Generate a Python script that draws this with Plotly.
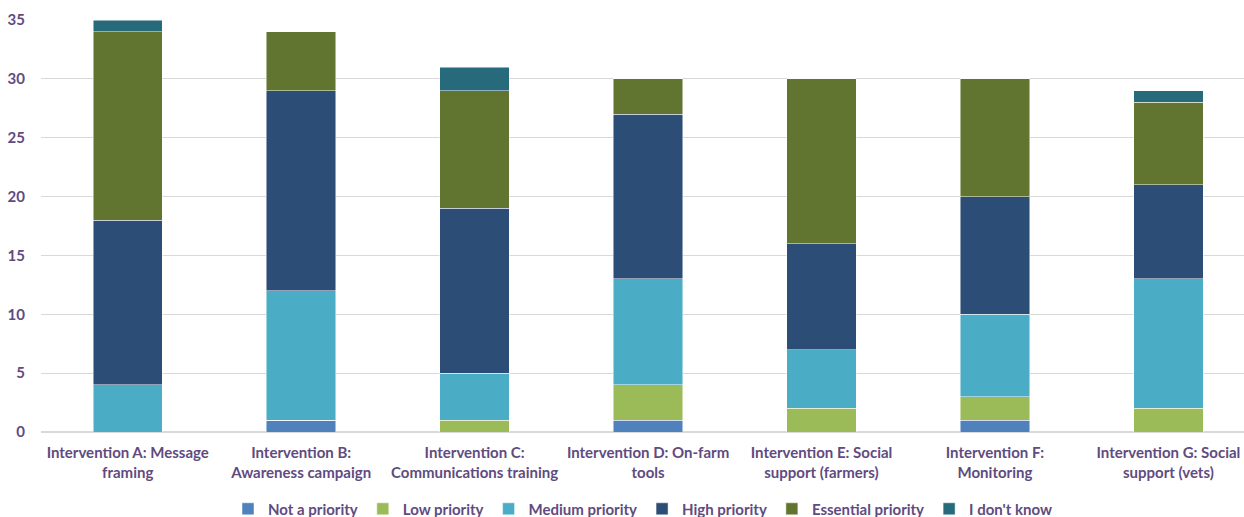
import plotly.graph_objects as go

categories = ["Intervention A: Message<br>framing",
              "Intervention B:<br>Awareness campaign",
              "Intervention C:<br>Communications training",
              "Intervention D: On-farm<br>tools",
              "Intervention E: Social<br>support (farmers)",
              "Intervention F:<br>Monitoring",
              "Intervention G: Social<br>support (vets)"]

not_priority = [0, 1, 0, 1, 0, 1, 0]
low_priority = [0, 0, 1, 3, 2, 2, 2]
medium_priority = [4, 11, 4, 9, 5, 7, 11]
high_priority = [14, 17, 14, 14, 9, 10, 8]
essential_priority = [16, 5, 10, 3, 14, 10, 7]
dont_know = [1, 0, 2, 0, 0, 0, 1]

series = [
    ("Not a priority", not_priority, "#4F81BD"),
    ("Low priority", low_priority, "#9BBB59"),
    ("Medium priority", medium_priority, "#4BACC6"),
    ("High priority", high_priority, "#2C4D75"),
    ("Essential priority", essential_priority, "#617530"),
    ("I don't know", dont_know, "#276A7C"),
]

font_color = "#5F4B80"
font_family = "Lato, 'Open Sans', sans-serif"

fig = go.Figure()
xs = list(range(len(categories)))
for name, vals, color in series:
    fig.add_trace(go.Bar(
        x=xs, y=vals, name=name, width=0.4,
        marker=dict(color=color, line=dict(color="rgba(255,255,255,0.6)", width=0.8)),
    ))

fig.update_layout(
    barmode="stack",
    width=1244, height=517,
    margin=dict(l=41, r=0, t=20, b=85, autoexpand=False),
    plot_bgcolor="white", paper_bgcolor="white",
    font=dict(family=font_family, size=15, color=font_color),
    legend=dict(orientation="h", x=0.5, xanchor="center", y=-0.187, yanchor="middle",
                font=dict(size=15, color=font_color, family=font_family, weight="bold"),
                traceorder="normal", itemwidth=30, bgcolor="rgba(0,0,0,0)"),
)
fig.update_xaxes(
    tickvals=xs, ticktext=categories, range=[-0.5, 6.436],
    showgrid=False, showline=False, ticks="", automargin=False,
    ticklabelstandoff=10,
    tickfont=dict(size=15, color=font_color, family=font_family, weight="bold"),
)
fig.update_yaxes(
    range=[0, 35], dtick=5, showgrid=True, gridcolor="#D9D9D9", gridwidth=1,
    zeroline=True, zerolinecolor="#D9D9D9", zerolinewidth=2, automargin=False,
    tickfont=dict(size=15, color=font_color, family=font_family, weight="bold"),
    ticks="", ticklabelstandoff=15,
)

fig.write_html("out.html")
